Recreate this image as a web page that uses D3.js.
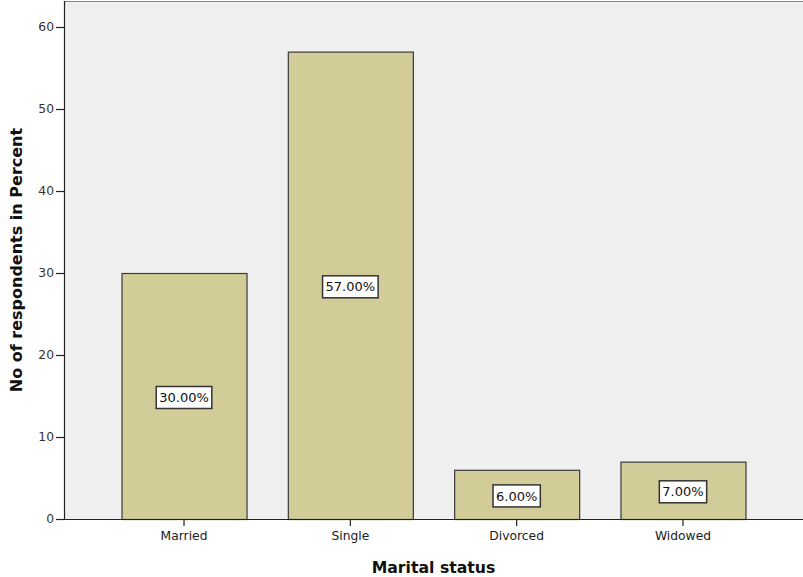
<!DOCTYPE html>
<html><head><meta charset="utf-8">
<script src="https://cdn.jsdelivr.net/npm/d3@7"></script>
<style>body{margin:0;background:#fff}svg{display:block}text{font-family:"DejaVu Sans",Verdana,sans-serif}</style>
</head><body>
<svg id="c" width="803" height="577"></svg>
<script>
const categories = ["Married","Single","Divorced","Widowed"];
const values = [30, 57, 6, 7];
const labels = ["30.00%","57.00%","6.00%","7.00%"];
const yTicks = [0,10,20,30,40,50,60];

const FONT = "DejaVu Sans, Verdana, sans-serif";
const svg = d3.select("#c");
const L = 64, R = 803, T = 1, B = 519;
const x = d3.scaleBand().domain(categories).range([L, R]).paddingInner(0.2484).paddingOuter(0.3458);
const y = d3.scaleLinear().domain([0, (B - T) / 8.2]).range([B, T]);

svg.append("rect").attr("x", L).attr("y", T).attr("width", R - L).attr("height", B - T).attr("fill", "#efefef");
svg.append("line").attr("x1", L).attr("x2", R).attr("y1", T + 0.5).attr("y2", T + 0.5).attr("stroke", "#888").attr("stroke-width", 1);

svg.selectAll("rect.bar").data(values).enter().append("rect").attr("class", "bar")
  .attr("x", (d, i) => x(categories[i]) + 0.5)
  .attr("y", d => y(d) + 0.5)
  .attr("width", x.bandwidth())
  .attr("height", d => y(0) - y(d))
  .attr("fill", "#d2cd98").attr("stroke", "#3a3a3a").attr("stroke-width", 1.2);

// value labels
const g = svg.selectAll("g.lab").data(values).enter().append("g").attr("class", "lab")
  .attr("transform", (d, i) => `translate(${x(categories[i]) + x.bandwidth() / 2},${(y(d) + y(0)) / 2 + 1.5})`);
g.each(function(d, i) {
  const gg = d3.select(this);
  const t = gg.append("text").attr("text-anchor", "middle").attr("dy", "0.36em")
    .attr("font-size", 13).attr("fill", "#111").text(labels[i]);
  const w = t.node().getComputedTextLength();
  gg.insert("rect", "text").attr("x", -w / 2 - 3).attr("y", -11).attr("width", w + 6).attr("height", 22)
    .attr("fill", "#fff").attr("stroke", "#333").attr("stroke-width", 1.5);
});

// y axis
const ya = svg.append("g").attr("transform", `translate(${L},0)`)
  .call(d3.axisLeft(y).tickValues(yTicks).tickSize(8).tickPadding(2));
ya.select(".domain").attr("stroke", "#222").attr("stroke-width", 1.2).attr("d", `M0.5,${T}V${B}`);
ya.selectAll(".tick line").attr("stroke", "#222").attr("stroke-width", 1.2);
ya.selectAll(".tick text").attr("font-size", 12.3).attr("fill", "#333").attr("font-family", FONT);

// x axis
const xa = svg.append("g").attr("transform", `translate(0,${B})`)
  .call(d3.axisBottom(x).tickSize(7).tickPadding(5.5));
xa.select(".domain").attr("stroke", "#222").attr("stroke-width", 1.2).attr("d", `M${L},0.5H${R}`);
xa.selectAll(".tick line").attr("stroke", "#222").attr("stroke-width", 1.2);
xa.selectAll(".tick text").attr("font-size", 12.3).attr("fill", "#222").attr("font-family", FONT);

svg.append("text").attr("x", (L + R) / 2).attr("y", 573).attr("text-anchor", "middle")
  .attr("font-size", 15.7).attr("font-weight", "bold").attr("fill", "#111").text("Marital status");
svg.append("text").attr("transform", `translate(22,${(T + B) / 2}) rotate(-90)`).attr("text-anchor", "middle")
  .attr("font-size", 16).attr("font-weight", "bold").attr("fill", "#111").text("No of respondents in Percent");
</script>
</body></html>
